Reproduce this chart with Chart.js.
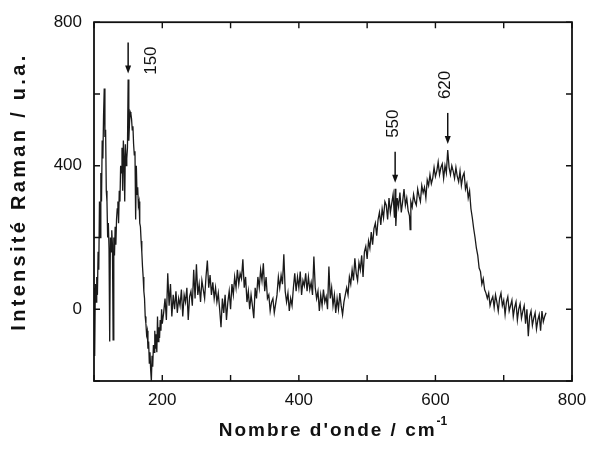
<!DOCTYPE html>
<html lang="fr">
<head>
  <meta charset="UTF-8">
  <title>Spectre Raman</title>
  <script src="https://cdn.jsdelivr.net/npm/chart.js"></script>
  <style>
    body { margin: 0; background: #fff; }
  </style>
</head>
<body>
  <canvas id="chartCanvas" width="589" height="450"></canvas>

  <script>
    // Nombre d'onde (cm-1)
    const wavenumbers = [
      100, 101, 102, 103, 104, 105, 106, 107, 108, 109,
      110, 111, 112, 113, 114, 115, 116, 117, 118, 119,
      120, 121, 122, 123, 124, 125, 126, 127, 128, 129,
      130, 131, 132, 133, 134, 135, 136, 137, 138, 139,
      140, 141, 142, 143, 144, 145, 146, 147, 148, 149,
      150, 151, 152, 153, 154, 155, 156, 157, 158, 159,
      160, 161, 162, 163, 164, 165, 166, 167, 168, 169,
      170, 171, 172, 173, 174, 175, 176, 177, 178, 179,
      180, 181, 182, 183, 184, 185, 186, 187, 188, 189,
      190, 191, 192, 193, 194, 195, 196, 197, 198, 199,
      200,
      202, 204, 206, 208, 210, 212, 214, 216, 218, 220,
      222, 224, 226, 228, 230, 232, 234, 236, 238, 240,
      242, 244, 246, 248, 250, 252, 254, 256, 258, 260,
      262, 264, 266, 268, 270, 272, 274, 276, 278, 280,
      282, 284, 286, 288, 290, 292, 294, 296, 298, 300,
      302, 304, 306, 308, 310, 312, 314, 316, 318, 320,
      322, 324, 326, 328, 330, 332, 334, 336, 338, 340,
      342, 344, 346, 348, 350, 352, 354, 356, 358, 360,
      362, 364, 366, 368, 370, 372, 374, 376, 378, 380,
      382, 384, 386, 388, 390, 392, 394, 396, 398, 400,
      402, 404, 406, 408, 410, 412, 414, 416, 418, 420,
      422, 424, 426, 428, 430, 432, 434, 436, 438, 440,
      442, 444, 446, 448, 450, 452, 454, 456, 458, 460,
      462, 464, 466, 468, 470, 472, 474, 476, 478, 480,
      482, 484, 486, 488,
      490, 492, 494, 496, 498, 500, 502, 504, 506, 508,
      510, 512, 514, 516, 518, 520, 522, 524, 526, 528,
      530, 532, 534, 536, 538, 540, 541, 542, 544, 546,
      548, 550, 552, 554, 556, 558, 560, 562, 563, 564,
      566, 568, 570, 572, 574, 576, 578, 580, 582, 584,
      586, 588, 590, 592, 594, 596, 598, 600, 602, 604,
      606, 608, 610, 612, 614, 616, 618, 620, 622, 624,
      626, 628, 630, 632, 634, 636, 638, 640, 642, 644,
      646, 648, 650, 652, 654, 656, 658, 660, 662, 664,
      666, 668, 670, 672, 674, 676, 678, 680, 682, 684,
      686, 688, 690, 692, 694, 696, 698, 700, 702, 704,
      706, 708, 710, 712, 714, 716, 718, 720, 722, 724,
      726, 728, 730, 732, 734, 736, 738, 740, 742, 744,
      746, 748, 750, 752, 754, 756, 758, 760, 762
    ];

    // Intensité Raman (u.a.)
    const intensity = [
      60, -130, 70, 20, 90, 40, 160, 110, 300, 200,
      380, 300, 470, 420, 540, 615, 480, 500, 330, 300,
      200, 240, 170, -90, 200, 160, 220, 180, -85, 200,
      150, 230, 180, 250, 280, 300, 240, 330, 300, 400,
      380, 450, 330, 470, 420, 300, 460, 400, 420, 450,
      640, 470, 520, 550, 545, 530, 500, 510, 460, 430,
      440, 250, 400, 320, 340, 290, 300, 240, 230, 190,
      160, 120, 90, 50, 30, -20, -40, -70, -60, -110,
      -90, -150, -120, -170, -200, -130, -160, -100, -120, -60,
      -110, -70, -120, -20, -90, -50, -80, -30, -60, 0,
      -40,
      -10, 30, -30, 100, 10, 70, -20, 40, 0, 50,
      -10, 30, 10, 55, -20, 40, 20, 60, -30, 35,
      50, 10, 110, 30, 125, 40, 70, 20, 80, 55,
      30, 90, 136, 60, 95, 40, 75, 30, 60, 20,
      45, 0, -50, 30, -10, 40, -30, 20, 50, 0,
      70, 40, 90, 60, 110, 70, 100, 85, 139, 60,
      90, 20, 50, 0, 40, 10, -25, 60, 30, 90,
      60, 110, 80, 128, 50, 90, 30, 40, -5, 20,
      30, -10, 15, 40, 90, 60, 95, 70, 153, 50,
      20, 45, -5, 30, 10, 60, 100, 50, 90, 60,
      105, 40, 80, 65, 100, 50, 90, 55, 75, 40,
      147, 60, 30, 50, -5, 40, 10, 55, 20, 35,
      0, 119, 30, 60, 10, 40, -10, 30, 0, 45,
      10, -15, 20, 40, 60, 40, 90, 70, 110, 80,
      142, 100, 80, 130,
      110, 150, 90, 160, 175, 140, 190, 170, 215, 180,
      225, 240, 205, 250, 270, 235, 280, 255, 300, 290,
      250, 310, 270, 295, 320, 255, 336, 232, 310, 285,
      325, 270, 300, 335, 290, 310, 275, 260, 222, 300,
      285, 320, 300, 290, 335, 315, 300, 345, 325, 340,
      310, 360, 345, 375, 350, 365, 395, 370, 385, 410,
      375, 395, 405, 365, 400, 380, 444, 395, 375, 400,
      385, 365, 395, 370, 355, 385, 345, 370, 380, 335,
      350, 310, 330, 280, 255, 225, 200, 170, 150, 115,
      105, 70, 85, 55, 45, 30, 45, 10, 25, 35,
      5, 40, 20, -5, 30, 45, 10, 25, -15, 20,
      35, -5, 10, 25, -20, 5, 20, -30, 0, 15,
      -25, -5, 10, -40, 0, -75, -20, -5, -45, -25,
      -10, -55, -30, -15, -60, -5, -35, -20, -10
    ];

    const xTickLabels = [200, 400, 600, 800];
    const yTickLabels = [0, 400, 800];

    const peakWavenumbers = [150, 541, 618];
    const peakLabels = ['150', '550', '620'];

    const fontFamily = "'Liberation Sans', Arial, sans-serif";

    const points = wavenumbers.map((w, i) => ({ x: w, y: intensity[i] }));

    // cadre, graduations vers l'intérieur, flèches et titres
    const decorPlugin = {
      id: 'decor',
      afterDraw(chart) {
        const { ctx, chartArea: a, scales: { x, y } } = chart;
        ctx.save();
        ctx.strokeStyle = '#111';
        ctx.fillStyle = '#111';

        ctx.lineWidth = 1.8;
        ctx.strokeRect(a.left, a.top, a.right - a.left, a.bottom - a.top);

        ctx.lineWidth = 1.4;
        ctx.beginPath();
        x.ticks.forEach(t => {
          const px = x.getPixelForValue(t.value);
          ctx.moveTo(px, a.bottom); ctx.lineTo(px, a.bottom - 6);
          ctx.moveTo(px, a.top); ctx.lineTo(px, a.top + 6);
        });
        y.ticks.forEach(t => {
          const py = y.getPixelForValue(t.value);
          ctx.moveTo(a.left, py); ctx.lineTo(a.left + 6, py);
          ctx.moveTo(a.right, py); ctx.lineTo(a.right - 6, py);
        });
        ctx.stroke();

        // flèches des pics
        ctx.font = '17px ' + fontFamily;
        ctx.textAlign = 'center';
        ctx.textBaseline = 'middle';
        peakWavenumbers.forEach((w, i) => {
          const idx = wavenumbers.indexOf(w);
          const px = x.getPixelForValue(w);
          const tip = y.getPixelForValue(intensity[idx]) - 6;
          const tail = tip - 31;
          ctx.lineWidth = 1.5;
          ctx.beginPath();
          ctx.moveTo(px, tail);
          ctx.lineTo(px, tip - 6);
          ctx.stroke();
          ctx.beginPath();
          ctx.moveTo(px - 3, tip - 8);
          ctx.lineTo(px + 3, tip - 8);
          ctx.lineTo(px, tip);
          ctx.closePath();
          ctx.fill();

          let cx, cy;
          if (i === 0) { cx = px + 23; cy = tip - 13; }
          else { cx = px - 2; cy = tail - 28; }
          ctx.save();
          ctx.translate(cx, cy);
          ctx.rotate(-Math.PI / 2);
          ctx.fillText(peakLabels[i], 0, 0);
          ctx.restore();
        });

        // titre axe y
        ctx.save();
        ctx.font = 'bold 20px ' + fontFamily;
        ctx.letterSpacing = '3.3px';
        ctx.translate(19, (a.top + a.bottom) / 2 - 10);
        ctx.rotate(-Math.PI / 2);
        ctx.fillText('Intensité Raman / u.a.', 0, 0);
        ctx.restore();

        // titre axe x avec exposant
        ctx.font = 'bold 19px ' + fontFamily;
        ctx.letterSpacing = '2px';
        ctx.textAlign = 'left';
        const main = "Nombre d'onde / cm";
        const w1 = ctx.measureText(main).width;
        ctx.font = 'bold 12px ' + fontFamily;
        ctx.letterSpacing = '0px';
        const w2 = ctx.measureText('-1').width;
        const startX = (a.left + a.right) / 2 - (w1 + w2) / 2;
        ctx.font = 'bold 19px ' + fontFamily;
        ctx.letterSpacing = '2px';
        ctx.fillText(main, startX, 431);
        ctx.font = 'bold 12px ' + fontFamily;
        ctx.letterSpacing = '0px';
        ctx.fillText('-1', startX + w1, 422);

        ctx.restore();
      }
    };

    const ctx = document.getElementById('chartCanvas').getContext('2d');
    new Chart(ctx, {
      type: 'line',
      data: {
        datasets: [{
          data: points,
          borderColor: '#1a1a1a',
          borderWidth: 1.3,
          pointRadius: 0,
          tension: 0,
          fill: false
        }]
      },
      options: {
        responsive: false,
        animation: false,
        layout: { padding: { top: 20, right: 17, left: 0, bottom: 0 } },
        plugins: {
          legend: { display: false },
          tooltip: { enabled: false }
        },
        scales: {
          x: {
            type: 'linear',
            min: 100,
            max: 800,
            grid: { display: false, drawTicks: false },
            border: { display: false },
            ticks: {
              stepSize: 100,
              padding: 9,
              color: '#111',
              font: { family: fontFamily, size: 17 },
              maxRotation: 0,
              callback: v => xTickLabels.includes(v) ? String(v) : ''
            },
            afterFit: s => {
              s.height = 69;
              s.paddingLeft = 0;
              s.paddingRight = 0;
            }
          },
          y: {
            min: -200,
            max: 800,
            grid: { display: false, drawTicks: false },
            border: { display: false },
            ticks: {
              stepSize: 200,
              padding: 12,
              color: '#111',
              font: { family: fontFamily, size: 17 },
              callback: v => yTickLabels.includes(v) ? String(v) : ''
            },
            afterFit: s => { s.width = 94; }
          }
        }
      },
      plugins: [decorPlugin]
    });
  </script>
</body>
</html>
